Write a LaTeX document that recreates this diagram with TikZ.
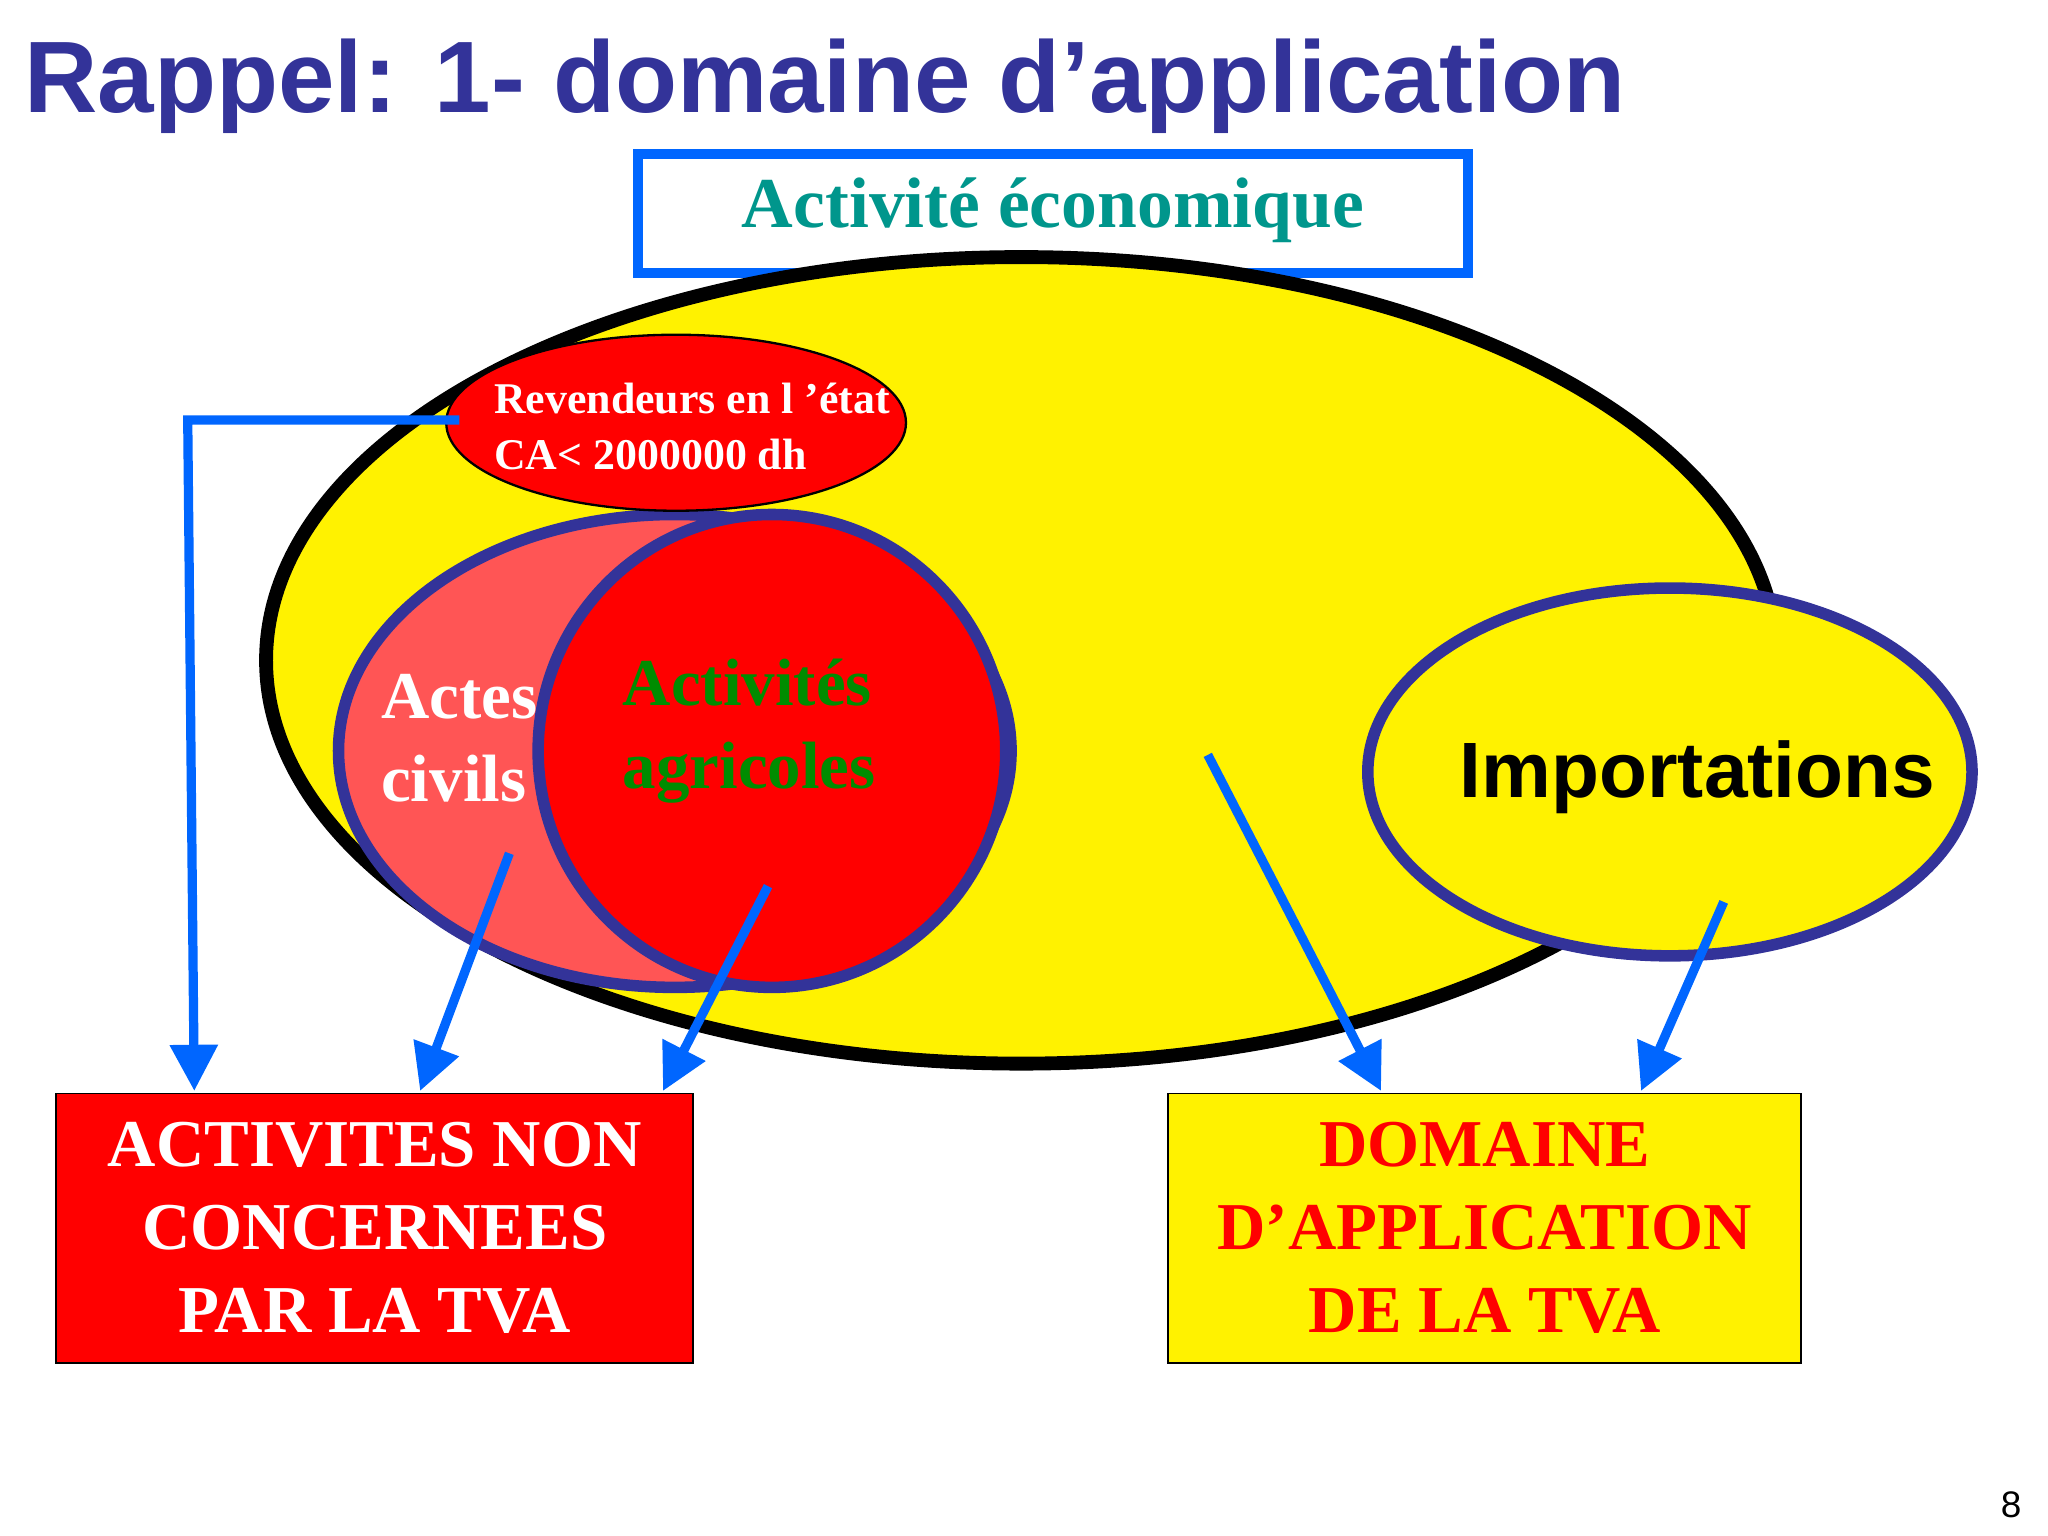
\documentclass[tikz,border=0pt]{standalone}
\usepackage{fontspec}
\setmainfont{Liberation Serif}
\setsansfont{Liberation Sans}
\usetikzlibrary{shapes.geometric,arrows.meta}
\definecolor{dblue}{RGB}{51,51,153}
\definecolor{lblue}{RGB}{0,102,255}
\definecolor{teal2}{RGB}{0,150,140}
\definecolor{lred}{RGB}{255,85,85}
\definecolor{dgreen}{RGB}{0,140,0}
\tikzset{
 ell/.style={ellipse,inner sep=0pt},
 arr/.style={draw=lblue,line width=2pt,-{Triangle[length=10pt,width=10pt]}},
 sertxt/.style={font=\bfseries\rmfamily,align=left}
}
\begin{document}
\begin{tikzpicture}[x=0.01cm,y=-0.01cm]
\useasboundingbox (0,0) rectangle (1560,1170);
\node[anchor=base west,text=dblue,font=\sffamily\bfseries\fontsize{22}{26}\selectfont,inner sep=0] (title) at (18,86) {Rappel: 1- domaine d’application};
\draw[lblue,line width=2.2pt] (486,117) rectangle (1118,208);
\node[text=teal2,font=\rmfamily\bfseries\fontsize{15.5}{18}\selectfont] (act) at (802,160) {Activité économique};
\node[ell,draw=black,line width=3pt,fill=yellow,minimum width=1150\pgflinewidth*0+11.5cm,minimum height=6.14cm] (big) at (778,503) {};
\node[ell,draw=dblue,line width=2.5pt,fill=lred,minimum width=5.12cm,minimum height=3.6cm] (civ) at (514,572) {};
\node[ell,draw=dblue,line width=2.5pt,fill=red,minimum width=3.56cm,minimum height=3.6cm] (agr) at (588,572) {};
\node[ell,draw=black,line width=0.5pt,fill=red,minimum width=3.5cm,minimum height=1.34cm] (rev) at (515,322) {};
\node[sertxt,text=white,font=\rmfamily\bfseries\fontsize{9.5}{12}\selectfont,anchor=west] (revt) at (364,325) {Revendeurs en l ’état\\CA< 2000000 dh};
\node[sertxt,text=white,font=\rmfamily\bfseries\fontsize{14.5}{18}\selectfont,anchor=west] (civt) at (278,562) {Actes\\civils};
\node[sertxt,text=dgreen,font=\rmfamily\bfseries\fontsize{14.5}{18}\selectfont,anchor=west] (agrt) at (462,557) {Activités\\agricoles};
\node[ell,draw=dblue,line width=2.5pt,fill=yellow,minimum width=4.6cm,minimum height=2.8cm] (imp) at (1272,588) {};
\node[font=\sffamily\bfseries\fontsize{17}{20}\selectfont] (impt) at (1293,592) {Importations};
\node[draw=black,fill=red,minimum width=4.85cm,minimum height=2.05cm,text=white,font=\rmfamily\bfseries\fontsize{14.5}{18}\selectfont,align=center] (non) at (285.5,935.5) {ACTIVITES NON\\CONCERNEES\\PAR LA TVA};
\node[draw=black,fill=yellow,minimum width=4.82cm,minimum height=2.05cm,text=red,font=\rmfamily\bfseries\fontsize{14.5}{18}\selectfont,align=center] (dom) at (1131,935.5) {DOMAINE\\D’APPLICATION\\DE LA TVA};
\coordinate (r0) at (350,320);
\coordinate (c0) at (388,650);
\coordinate (a0) at (585,675);
\coordinate (y0) at (920,575);
\coordinate (i0) at (1313,687);
\draw[arr] (r0) -- (143,320) -- (148,831);
\draw[arr] (c0) -- (320,831);
\draw[arr] (a0) -- (505,831);
\draw[arr] (y0) -- (1052,831);
\draw[arr] (i0) -- (1250,831);
\node[font=\sffamily\fontsize{8}{9}\selectfont] (pg) at (1532,1146) {8};
\end{tikzpicture}
\end{document}
